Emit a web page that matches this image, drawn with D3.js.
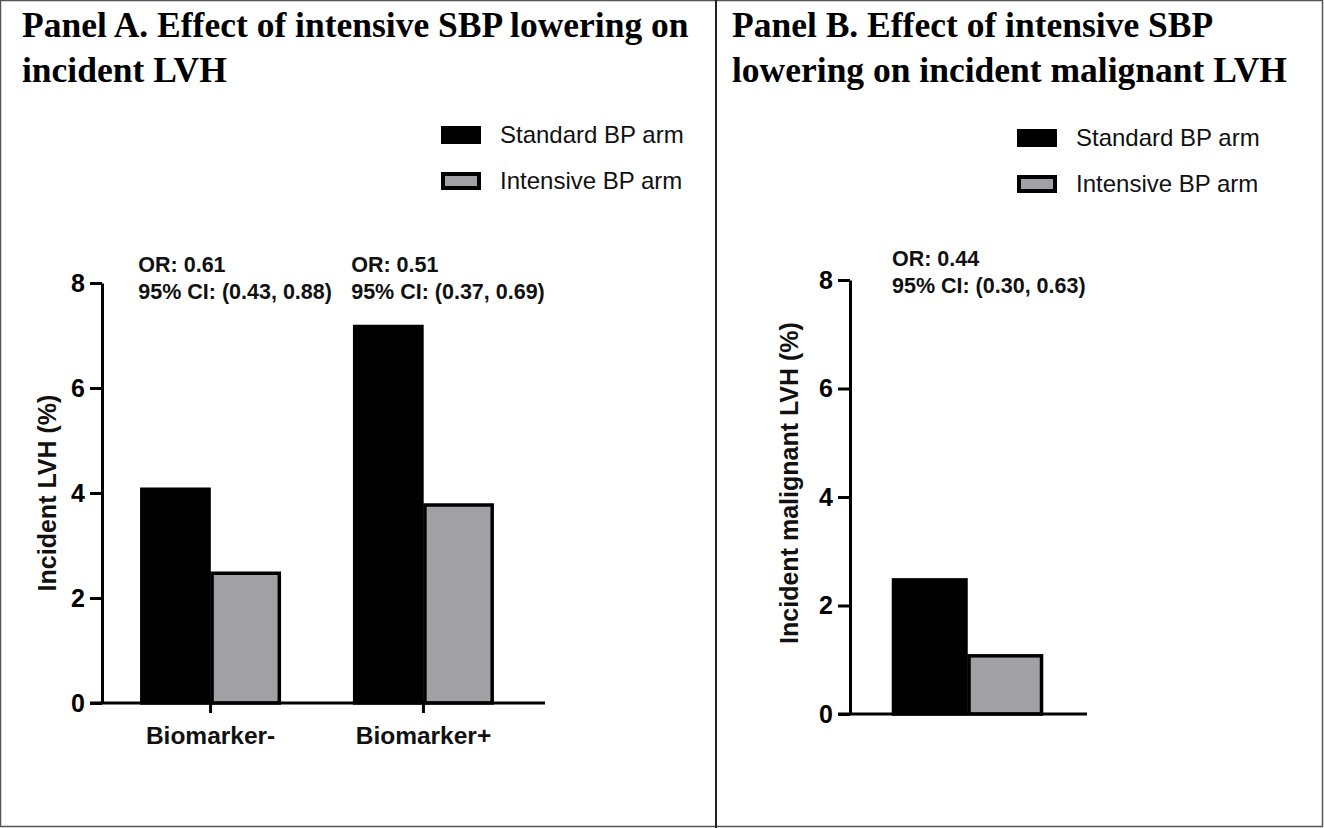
<!DOCTYPE html>
<html>
<head>
<meta charset="utf-8">
<script src="https://cdn.jsdelivr.net/npm/d3@7"></script>
<style>
  body { margin: 0; background: #fff; }
  svg { display: block; }
</style>
</head>
<body>
<svg id="chart" width="1324" height="828"></svg>
<script>
// values
var arms = ["Standard BP arm", "Intensive BP arm"];
var armColors = ["#000000", "#a1a0a5"];

var groupsA = ["Biomarker-", "Biomarker+"];
var standardA = [4.1, 7.2];
var intensiveA = [2.5, 3.8];
var orLinesA = [["OR: 0.61", "95% CI: (0.43, 0.88)"], ["OR: 0.51", "95% CI: (0.37, 0.69)"]];

var groupsB = [""];
var standardB = [2.5];
var intensiveB = [1.1];
var orLinesB = [["OR: 0.44", "95% CI: (0.30, 0.63)"]];

var yTicks = [0, 2, 4, 6, 8];

var titleA = ["Panel A. Effect of intensive SBP lowering on", "incident LVH"];
var titleB = ["Panel B. Effect of intensive SBP", "lowering on incident malignant LVH"];

var svg = d3.select("#chart");
var sans = "'Liberation Sans', Arial, sans-serif";
var serif = "'Liberation Serif', 'Times New Roman', serif";

// frame
svg.append("rect").attr("x", 0.5).attr("y", 0.5).attr("width", 1322).attr("height", 826)
  .attr("fill", "none").attr("stroke", "#555").attr("stroke-width", 1.5);
svg.append("line").attr("x1", 716).attr("x2", 716).attr("y1", 0).attr("y2", 828)
  .attr("stroke", "#222").attr("stroke-width", 2);

function drawPanel(cfg) {
  var g = svg.append("g");

  // title
  g.append("text")
    .attr("font-family", serif).attr("font-weight", "bold").attr("font-size", 35.5)
    .selectAll("tspan").data(cfg.title).join("tspan")
    .attr("x", cfg.titleX).attr("y", function (d, i) { return 37 + i * 45; })
    .text(function (d) { return d; });

  // legend
  var leg = g.selectAll(".leg").data(arms).join("g")
    .attr("transform", function (d, i) { return "translate(" + cfg.legX + "," + (cfg.legY + i * 46) + ")"; });
  leg.append("rect")
    .attr("x", 2).attr("y", 2).attr("width", 36).attr("height", 14)
    .attr("fill", function (d, i) { return armColors[i]; })
    .attr("stroke", "#000").attr("stroke-width", 4);
  leg.append("text")
    .attr("x", 59).attr("y", 17)
    .attr("font-family", sans).attr("font-size", 24).attr("fill", "#111")
    .text(function (d) { return d; });

  var y = d3.scaleLinear().domain([0, 8]).range([cfg.y0, cfg.y8]);
  var x = d3.scaleBand().domain(cfg.groups).range([cfg.axisX, cfg.xEnd])
    .paddingInner(cfg.padIn).paddingOuter(cfg.padOut);
  var xs = d3.scaleBand().domain(arms).range([0, x.bandwidth()]);

  var rows = cfg.groups.map(function (k, i) {
    return { group: k, vals: [cfg.standard[i], cfg.intensive[i]], or: cfg.or[i] };
  });

  // bars
  var grp = g.selectAll(".grp").data(rows).join("g")
    .attr("transform", function (d) { return "translate(" + x(d.group) + ",0)"; });
  grp.selectAll("rect").data(function (d) { return d.vals; }).join("rect")
    .attr("x", function (d, i) { return xs(arms[i]) + 1.5; })
    .attr("y", function (d) { return y(d) + 1.5; })
    .attr("width", xs.bandwidth() - 3)
    .attr("height", function (d) { return y(0) - y(d) - 1.5; })
    .attr("fill", function (d, i) { return armColors[i]; })
    .attr("stroke", "#000").attr("stroke-width", 3.5);

  // OR annotations
  grp.append("text")
    .attr("font-family", sans).attr("font-weight", "bold").attr("font-size", 21.5).attr("fill", "#111")
    .selectAll("tspan").data(function (d) { return d.or; }).join("tspan")
    .attr("x", cfg.orDx).attr("y", function (d, i) { return cfg.orY + i * 27; })
    .text(function (d) { return d; });

  // y axis
  var yAxis = g.append("g").attr("transform", "translate(" + cfg.axisX + ",0)")
    .call(d3.axisLeft(y).tickValues(yTicks).tickSize(12).tickSizeOuter(0).tickPadding(5));
  yAxis.selectAll("path, line").attr("stroke", "#000").attr("stroke-width", 3);
  yAxis.selectAll("text").attr("font-family", sans).attr("font-weight", "bold")
    .attr("font-size", 25).attr("fill", "#000");

  // x axis
  var xAxis = g.append("g").attr("transform", "translate(0," + y(0) + ")")
    .call(d3.axisBottom(x).tickSize(cfg.xTick).tickSizeOuter(0).tickPadding(14));
  xAxis.select(".domain").attr("d", "M" + (cfg.axisX - 12) + ",0H" + cfg.xLineEnd);
  xAxis.selectAll("path, line").attr("stroke", "#000").attr("stroke-width", 3);
  xAxis.selectAll("text").attr("font-family", sans).attr("font-weight", "bold")
    .attr("font-size", 24.5).attr("fill", "#111");

  // y label
  g.append("text")
    .attr("transform", "translate(" + cfg.yLabX + "," + cfg.yLabY + ") rotate(-90)")
    .attr("text-anchor", "middle").attr("dy", "0.35em")
    .attr("font-family", sans).attr("font-weight", "bold").attr("font-size", 25).attr("fill", "#111")
    .text(cfg.yLabel);
}

drawPanel({
  title: titleA, titleX: 22,
  legX: 441, legY: 126,
  groups: groupsA, standard: standardA, intensive: intensiveA, or: orLinesA,
  y0: 703, y8: 283, axisX: 102, xEnd: 532, padIn: 0.34, padOut: 0.18,
  xLineEnd: 545, xTick: 10, orY: 272, orDx: -2,
  yLabel: "Incident LVH (%)", yLabX: 47, yLabY: 493
});

drawPanel({
  title: titleB, titleX: 732,
  legX: 1017, legY: 129,
  groups: groupsB, standard: standardB, intensive: intensiveB, or: orLinesB,
  y0: 714, y8: 280, axisX: 850, xEnd: 1085, padIn: 0, padOut: 0.278,
  xLineEnd: 1087, xTick: 0, orY: 266, orDx: 0,
  yLabel: "Incident malignant LVH (%)", yLabX: 789, yLabY: 483
});
</script>
</body>
</html>
